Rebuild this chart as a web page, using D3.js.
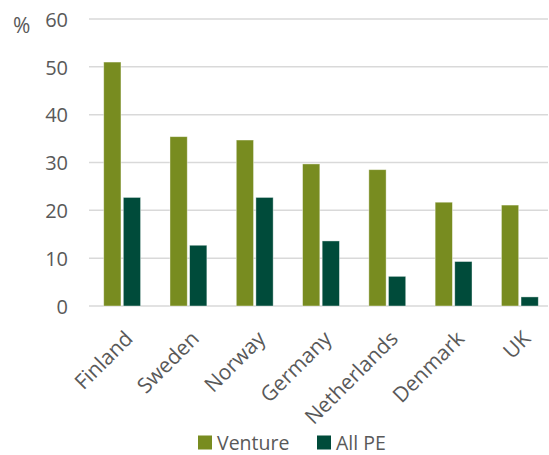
<!DOCTYPE html>
<html><head><meta charset="utf-8">
<script src="https://cdn.jsdelivr.net/npm/d3@7"></script>
<style>body{margin:0;background:#fff;} text{font-family:"Open Sans",sans-serif;}</style>
</head><body>
<svg id="c" width="549" height="455"></svg>
<script>
const categories = ["Finland","Sweden","Norway","Germany","Netherlands","Denmark","UK"];
const seriesNames = ["Venture","All PE"];
const venture = [51.0, 35.4, 34.7, 29.7, 28.5, 21.7, 21.1];
const allPE = [22.7, 12.7, 22.7, 13.6, 6.2, 9.3, 1.9];
const yTicks = [0,10,20,30,40,50,60];
const colors = ["#788c20","#004b3a"];

const svg = d3.select("#c");
const m = {left:89, right:-4, top:19, bottom:149};
const W = 549, H = 455;
const x = d3.scaleBand().domain(categories).range([m.left, W - m.right]).paddingInner(0).paddingOuter(0);
const x1 = d3.scaleBand().domain(seriesNames).range([0, x.bandwidth()]).paddingInner(0.12).paddingOuter(0.75);
const y = d3.scaleLinear().domain([0,60]).range([H - m.bottom, m.top]);

// gridlines
svg.append("g").selectAll("line").data(yTicks).join("line")
  .attr("x1", m.left).attr("x2", 548)
  .attr("y1", d => y(d)).attr("y2", d => y(d))
  .attr("stroke", "#d9d9d9").attr("stroke-width", 1.5);

// y axis labels
const yAxis = d3.axisLeft(y).tickValues(yTicks).tickSize(0).tickPadding(0);
const ga = svg.append("g").attr("transform", `translate(${68},0)`).call(yAxis);
ga.select(".domain").remove();
ga.selectAll("text").attr("font-size", 20).attr("fill", "#595959").attr("dy", "0.36em")
  .style("font-family", "'Open Sans',sans-serif");

svg.append("text").attr("x", 13).attr("y", 33).text("%").attr("font-size", 21).attr("fill", "#595959");

// bars
const data = categories.map((c,i) => ({c, vals:[venture[i], allPE[i]]}));
const groups = svg.append("g").selectAll("g").data(data).join("g")
  .attr("transform", d => `translate(${x(d.c)},0)`);
groups.selectAll("rect").data(d => d.vals.map((v,j) => ({v, s:seriesNames[j], j}))).join("rect")
  .attr("x", d => x1(d.s)).attr("width", x1.bandwidth())
  .attr("y", d => y(d.v)).attr("height", d => y(0) - y(d.v))
  .attr("fill", d => colors[d.j])
  .attr("stroke", "#ffffff").attr("stroke-opacity", 0.5).attr("stroke-width", 0.8);

// x labels
svg.append("g").selectAll("text").data(categories).join("text")
  .attr("transform", d => `translate(${x(d) + x.bandwidth()/2 + 12},${340}) rotate(-45)`)
  .attr("text-anchor", "end")
  .attr("font-size", 21).attr("fill", "#595959")
  .text(d => d);

// legend
const leg = svg.append("g");
const legX = [198, 317];
seriesNames.forEach((s,i) => {
  leg.append("rect").attr("x", legX[i]).attr("y", 435.5).attr("width", 14).attr("height", 14).attr("fill", colors[i]);
  leg.append("text").attr("x", legX[i] + 19).attr("y", 449.5).attr("font-size", 19.5).attr("fill", "#595959").text(s);
});
</script>
</body></html>
